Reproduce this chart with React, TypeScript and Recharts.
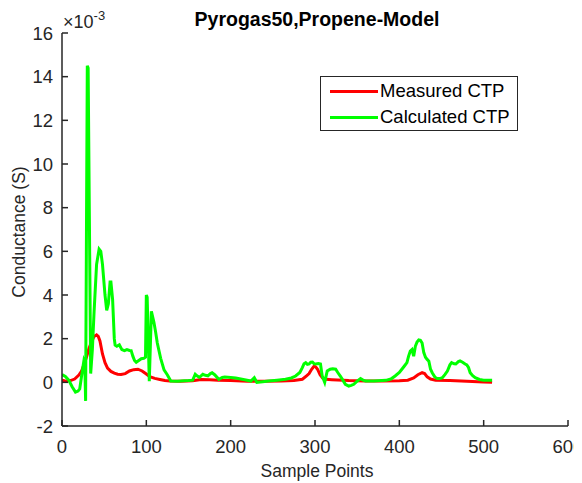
import { CartesianGrid, Customized, Legend, Line, LineChart, XAxis, YAxis } from "recharts"

// values in units of 1e-3 S
const measuredPts: [number, number][] = [
  [0, 0.1], [5, 0.05], [10, 0.08], [15, 0.15], [20, 0.33], [23, 0.5], [26, 0.8],
  [29, 1.15], [32, 1.55], [35, 1.85], [38, 2.1], [41, 2.17], [43, 2.1], [45, 1.9],
  [48, 1.3], [51, 0.9], [54, 0.65], [58, 0.5], [62, 0.42], [66, 0.37], [70, 0.36],
  [75, 0.4], [80, 0.52], [85, 0.58], [90, 0.6], [95, 0.52], [100, 0.38], [104, 0.26],
  [110, 0.18], [116, 0.13], [122, 0.08], [128, 0.06], [140, 0.05], [155, 0.07],
  [165, 0.13], [175, 0.12], [185, 0.09], [200, 0.08], [220, 0.05], [240, 0.05],
  [260, 0.06], [275, 0.08], [285, 0.14], [290, 0.3], [293, 0.4], [296, 0.6],
  [299, 0.75], [301, 0.7], [303, 0.6], [306, 0.35], [309, 0.2], [313, 0.14],
  [320, 0.12], [340, 0.08], [360, 0.06], [380, 0.06], [400, 0.07], [410, 0.1],
  [417, 0.2], [422, 0.35], [427, 0.44], [430, 0.4], [433, 0.25], [437, 0.15],
  [443, 0.1], [460, 0.08], [480, 0.05], [500, 0.02], [510, 0.0],
]

const calculatedPts: [number, number][] = [
  [0, 0.36], [4, 0.27], [8, 0.1], [12, -0.2], [16, -0.45], [19, -0.4], [21, -0.3],
  [24, 0.5], [26, 1.0], [27, 0.9], [28, -0.85], [30, 14.5], [31, 14.4], [34, 0.4],
  [36, 1.5], [38, 3.2], [41, 5.4], [44, 6.1], [46, 6.0], [48, 5.4], [51, 4.0],
  [53, 3.3], [55, 3.6], [57, 4.6], [58, 4.6], [60, 3.8], [62, 2.0], [63, 1.7],
  [65, 1.65], [68, 1.72], [71, 1.5], [74, 1.45], [77, 1.5], [80, 1.46], [82, 1.45],
  [84, 1.2], [86, 1.0], [88, 0.92], [91, 1.0], [94, 1.08], [97, 1.1], [99, 1.15],
  [100, 4.0], [101, 3.9], [103.5, 0.05], [106, 3.25], [109, 2.75], [111, 2.3],
  [113, 1.8], [117, 1.1], [121, 0.57], [125, 0.34], [129, 0.06], [137, 0.05],
  [145, 0.07], [150, 0.08], [155, 0.1], [158, 0.37], [160, 0.3], [163, 0.23],
  [167, 0.37], [170, 0.32], [173, 0.3], [176, 0.4], [178, 0.44], [181, 0.35],
  [186, 0.14], [190, 0.22], [193, 0.24], [200, 0.22], [206, 0.2], [215, 0.13],
  [224, 0.06], [228, 0.21], [231, 0.0], [238, 0.03], [245, 0.06], [255, 0.1],
  [265, 0.14], [272, 0.2], [277, 0.29], [282, 0.45], [285, 0.67], [287, 0.85],
  [289, 0.9], [291, 0.82], [293, 0.84], [295, 0.92], [297, 0.93], [299, 0.85],
  [301, 0.84], [304, 0.86], [306.5, 0.84], [308.5, 0.3], [311.5, 0.0], [314.5, 0.52],
  [318, 0.6], [321, 0.62], [324.5, 0.6], [327, 0.45], [330, 0.29], [333, 0.1],
  [336, -0.09], [340, -0.17], [343, -0.14], [346, -0.09], [350, 0.05], [354, 0.17],
  [357, 0.1], [360, 0.06], [370, 0.06], [384, 0.09], [390, 0.15], [395, 0.29],
  [400, 0.45], [403, 0.6], [406, 0.75], [409, 0.9], [411, 1.2], [413, 1.43],
  [415, 1.5], [417, 1.2], [419, 1.65], [421, 1.85], [423, 1.94], [425, 1.92],
  [427, 1.8], [429, 1.36], [431, 1.15], [433, 1.05], [435, 0.97], [437, 0.6],
  [439, 0.44], [442, 0.25], [445, 0.17], [448, 0.17], [451, 0.21], [454, 0.35],
  [457, 0.52], [460, 0.8], [462, 0.9], [465, 0.85], [467, 0.84], [470, 0.95],
  [472, 0.98], [475, 0.92], [478, 0.84], [480, 0.8], [482, 0.68], [484, 0.44],
  [487, 0.3], [490, 0.21], [495, 0.13], [500, 0.1], [510, 0.09],
]

const xTicks = [0, 100, 200, 300, 400, 500, 600]
const yTicks = [-2, 0, 2, 4, 6, 8, 10, 12, 14, 16]

const series = [
  { name: "Measured CTP", color: "#ff0000", pts: measuredPts },
  { name: "Calculated CTP", color: "#00ff00", pts: calculatedPts },
]

const FONT = "'Liberation Sans', Arial, Helvetica, sans-serif"
const AXIS = "#262626"

const toRows = (pts: [number, number][]) => pts.map(([x, y]) => ({ x, y }))

function LegendBox() {
  return (
    <div
      style={{
        width: 196,
        height: 53,
        border: "1px solid #262626",
        background: "#fff",
        fontFamily: FONT,
        fontSize: 18.5,
        color: "#000",
        boxSizing: "content-box",
      }}
    >
      {series.map((s, i) => (
        <div
          key={s.name}
          style={{ display: "flex", alignItems: "center", height: 26, marginTop: i === 0 ? 1 : 0 }}
        >
          <div style={{ width: 48, height: 3, background: s.color, marginLeft: 9, marginRight: 2 }} />
          <span style={{ lineHeight: "20px" }}>{s.name}</span>
        </div>
      ))}
    </div>
  )
}

function Overlay() {
  return (
    <g fontFamily={FONT}>
      <text x={309} y={18} textAnchor="middle" fontSize={19.5} fontWeight="bold" fill="#000">
        Pyrogas50,Propene-Model
      </text>
      <text x={55} y={20} fontSize={18} fill={AXIS}>
        ×10
        <tspan dy={-8} fontSize={13}>-3</tspan>
      </text>
    </g>
  )
}

export default function App() {
  return (
    <LineChart
      width={574}
      height={475}
      margin={{ top: 25, right: 14, bottom: 0, left: 0 }}
      style={{ fontFamily: FONT }}
    >
      <CartesianGrid stroke="none" />
      <XAxis
        type="number"
        dataKey="x"
        domain={[0, 600]}
        ticks={xTicks}
        height={57}
        allowDataOverflow
        tickSize={-6}
        tickMargin={20}
        stroke={AXIS}
        strokeWidth={1.5}
        tick={{ fill: AXIS, fontSize: 18.5 }}
        label={(props: any) => {
          const vb = props.viewBox
          return (
            <text x={vb.x + vb.width / 2 + 2} y={vb.y + 51} textAnchor="middle" fontSize={17.5} fill={AXIS}>
              Sample Points
            </text>
          )
        }}
      />
      <YAxis
        type="number"
        dataKey="y"
        domain={[-2, 16]}
        ticks={yTicks}
        width={54}
        allowDataOverflow
        tickSize={-6}
        tickMargin={15}
        stroke={AXIS}
        strokeWidth={1.5}
        tick={{ fill: AXIS, fontSize: 18.5 }}
        label={() => (
          <text x={17} y={224} transform="rotate(-90 17 224)" textAnchor="middle" fontSize={17.5} fill={AXIS}>
            Conductance (S)
          </text>
        )}
      />
      {series.map((s) => (
        <Line
          key={s.name}
          data={toRows(s.pts)}
          dataKey="y"
          name={s.name}
          type="linear"
          stroke={s.color}
          strokeWidth={3}
          dot={false}
          activeDot={false}
          isAnimationActive={false}
        />
      ))}
      <Legend
        layout="horizontal"
        verticalAlign="middle"
        align="center"
        content={() => <LegendBox />}
        wrapperStyle={{ position: "absolute", left: 312, top: 68, width: 198 }}
      />
      <Customized component={Overlay} />
    </LineChart>
  )
}
